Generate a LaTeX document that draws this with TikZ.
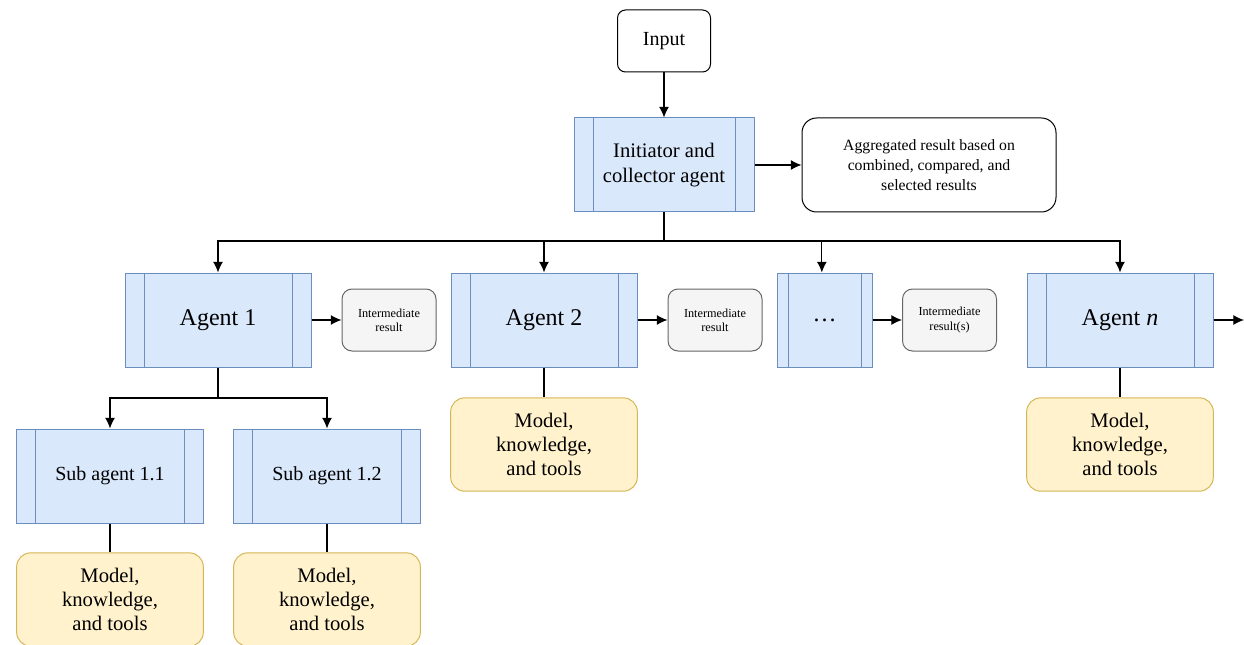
\documentclass[tikz,border=0pt]{standalone}
\usepackage{fontspec}
\setmainfont{Liberation Serif}
\usepackage{xcolor}
\usetikzlibrary{arrows.meta}
\definecolor{agentfill}{HTML}{DAE8FC}
\definecolor{agentdraw}{HTML}{6C8EBF}
\definecolor{toolfill}{HTML}{FFF2CC}
\definecolor{tooldraw}{HTML}{D6B656}
\definecolor{resultfill}{HTML}{F5F5F5}
\definecolor{resultdraw}{HTML}{666666}

\begin{document}
\begin{tikzpicture}[x=0.75pt,y=-0.75pt]
		\tikzset{> = {Latex[length=8pt,width=7.5pt]}}
		\tikzset{
			agentbox/.style={draw=agentdraw,fill=agentfill,line width=0.75pt,inner sep=0pt,
				minimum width=139.5pt,minimum height=70.5pt,align=center,font=\fontsize{18}{20}\selectfont,
				path picture={
					\draw[agentdraw,line width=0.75pt] ([xshift=#1]path picture bounding box.north west) -- ([xshift=#1]path picture bounding box.south west);
					\draw[agentdraw,line width=0.75pt] ([xshift=-#1]path picture bounding box.north east) -- ([xshift=-#1]path picture bounding box.south east);
				}},
			agentbox/.default=14.25pt,
			subbox/.style={agentbox,minimum width=140.25pt,font=\fontsize{15}{18}\selectfont},
			toolbox/.style={draw=tooldraw,fill=toolfill,line width=0.75pt,rounded corners=10.5pt,inner sep=0pt,
				minimum width=140pt,minimum height=70pt,align=center,font=\fontsize{15.5}{18}\selectfont},
			interbox/.style={draw=resultdraw,fill=resultfill,line width=0.75pt,rounded corners=7.5pt,inner sep=0pt,
				minimum width=70.5pt,minimum height=46.5pt,align=center,font=\fontsize{9.2}{10.7}\selectfont},
			plainbox/.style={draw,line width=0.75pt,fill=white,inner sep=0pt,align=center},
			link/.style={line width=0.9pt}
		}
		\useasboundingbox (0,0) rectangle (1244,645);
		% top
		\node[plainbox,rounded corners=6pt,minimum width=69.75pt,minimum height=46.5pt,font=\fontsize{15}{18}\selectfont] (input) at (664,41) {Input};
		\node[agentbox,minimum width=135pt,font=\fontsize{15.5}{19.3}\selectfont] (init) at (664,165) {Initiator and\\collector agent};
		\node[plainbox,rounded corners=11pt,minimum width=190.5pt,minimum height=70.5pt,font=\fontsize{11.8}{15}\selectfont] (aggr) at (929,165) {Aggregated result based on\\combined, compared, and\\selected results};
		% agents
		\node[agentbox] (agent1) at (218,320) {Agent 1};
		\node[interbox] (inter1) at (389,320) {Intermediate\\result};
		\node[agentbox] (agent2) at (544,320) {Agent 2};
		\node[interbox] (inter2) at (715,320) {Intermediate\\result};
		\node[agentbox=8.25pt,minimum width=71.25pt] (dots) at (824.5,320) {\dots};
		\node[interbox] (inter3) at (949.5,320) {Intermediate\\result(s)};
		\node[agentbox] (agentn) at (1120,320) {Agent \textit{n}};
		\coordinate (nextend) at (1244,320);
		% sub agents and tools
		\node[subbox] (sub11) at (110,476) {Sub agent 1.1};
		\node[subbox] (sub12) at (327,476) {Sub agent 1.2};
		\node[toolbox] (tools2) at (544,444.5) {Model,\\knowledge,\\and tools};
		\node[toolbox] (toolsn) at (1120,444.5) {Model,\\knowledge,\\and tools};
		\node[toolbox] (tools11) at (110,599.5) {Model,\\knowledge,\\and tools};
		\node[toolbox] (tools12) at (327,599.5) {Model,\\knowledge,\\and tools};
		\coordinate (bus) at (664,241);
		\coordinate (split1) at (218,398);
		% connectors
		\draw[link,->] (input) -- (init);
		\draw[link,->] (init) -- (aggr);
		\draw[link,->] (init.south) -- (bus) -| (agent1.north);
		\draw[link,->] (bus) -| (agent2.north);
		\draw[link,->] (bus) -| ([xshift=-2pt]dots.north);
		\draw[link,->] (bus) -| (agentn.north);
		\draw[link,->] (agent1) -- (inter1);
		\draw[link,->] (agent2) -- (inter2);
		\draw[link,->] (dots) -- (inter3);
		\draw[link,->] (agentn) -- (nextend);
		\draw[link,->] (agent1.south) -- (split1) -| (sub11.north);
		\draw[link,->] (split1) -| (sub12.north);
		\draw[link] (agent2) -- (tools2);
		\draw[link] (agentn) -- (toolsn);
		\draw[link] (sub11) -- (tools11);
		\draw[link] (sub12) -- (tools12);
	\end{tikzpicture}
\end{document}
